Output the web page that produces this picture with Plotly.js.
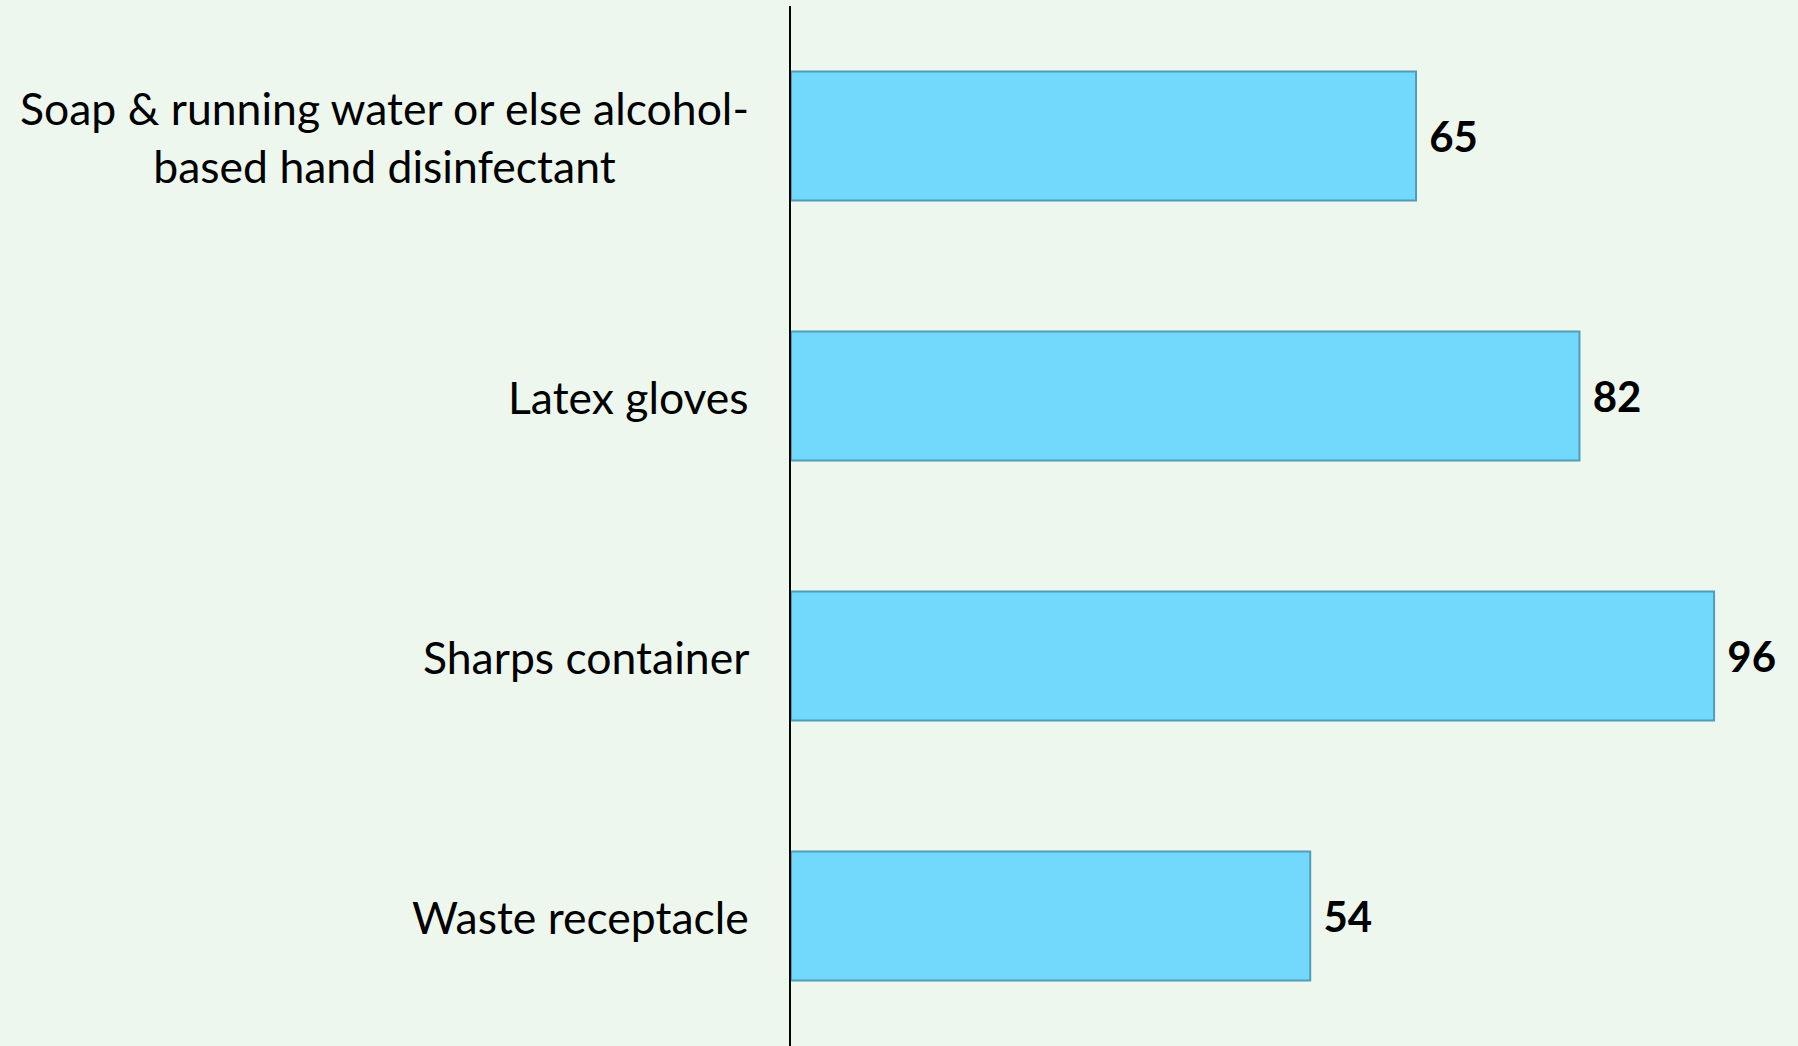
<!DOCTYPE html>
<html>
<head>
<meta charset="utf-8">
<script src="https://cdn.plot.ly/plotly-3.0.1.min.js"></script>
<style>html,body{margin:0;padding:0;background:#EDF7EE;}#chart{width:1798px;height:1046px;}</style>
</head>
<body>
<div id="chart"></div>
<script>
const categories = [
  "Soap & running water or else alcohol-<br>based hand disinfectant",
  "Latex gloves",
  "Sharps container",
  "Waste receptacle"
];
const values = [65, 82, 96, 54];

const ids = categories.map((c, i) => "c" + i);

const bars = {
  type: "bar",
  orientation: "h",
  y: ids,
  x: values,
  texttemplate: "\u00a0%{x}",
  textposition: "outside",
  cliponaxis: false,
  textfont: {family: "Lato, 'Liberation Sans', sans-serif", size: 42, color: "#000", weight: 700},
  marker: {color: "#72D8FC", line: {color: "#4F9DB8", width: 2}},
  hoverinfo: "skip"
};

const annotations = categories.map((c, i) => ({
  xref: "paper", yref: "y",
  x: 0, y: ids[i],
  xanchor: "right", yanchor: "middle",
  xshift: -40,
  align: "center",
  showarrow: false,
  text: c,
  font: {family: "Lato, 'Liberation Sans', sans-serif", size: 44.5, color: "#000"}
}));

const layout = {
  width: 1798, height: 1046,
  paper_bgcolor: "#EDF7EE",
  plot_bgcolor: "#EDF7EE",
  margin: {l: 791, r: 7, t: 6, b: 0},
  bargap: 0.503,
  showlegend: false,
  xaxis: {range: [0, 104], showgrid: false, zeroline: false, showticklabels: false, showline: false, ticks: ""},
  yaxis: {autorange: "reversed", showgrid: false, zeroline: false, showticklabels: false,
          showline: true, linecolor: "#000", linewidth: 2, ticks: ""},
  annotations: annotations
};

Plotly.newPlot("chart", [bars], layout, {displayModeBar: false, staticPlot: true});
</script>
</body>
</html>
